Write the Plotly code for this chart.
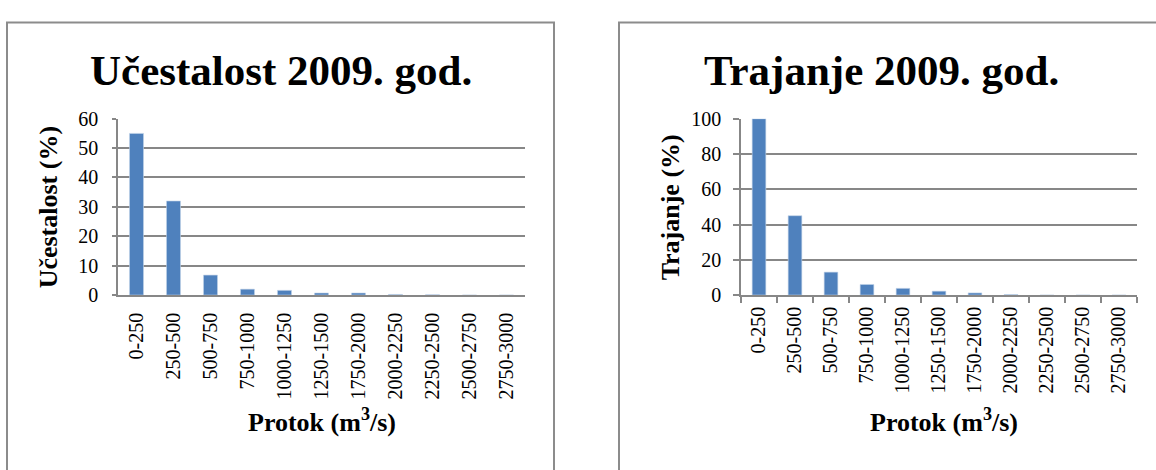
import plotly.graph_objects as go

categories = ["0-250", "250-500", "500-750", "750-1000", "1000-1250", "1250-1500",
              "1750-2000", "2000-2250", "2250-2500", "2500-2750", "2750-3000"]
ucestalost = [55, 32, 6.8, 2.0, 1.6, 0.7, 0.7, 0.2, 0.1, 0.0, 0.0]
trajanje = [100, 45, 13, 6, 3.8, 2.2, 1.2, 0.3, 0.0, 0.0, 0.0]

W, H = 1156, 470
BLUE = "#4F81BD"
GRID = "#878787"
FONT = "Liberation Serif, Times New Roman, serif"

def px(x):
    return x / W

def py(y):
    return 1 - y / H

fig = go.Figure()
fig.add_trace(go.Bar(x=categories, y=ucestalost, marker=dict(color=BLUE, line=dict(color="#c5d5ea", width=0.6)),
                     xaxis="x", yaxis="y", showlegend=False))
fig.add_trace(go.Bar(x=categories, y=trajanje, marker=dict(color=BLUE, line=dict(color="#c5d5ea", width=0.6)),
                     xaxis="x2", yaxis="y2", showlegend=False))

ydom = [py(298), py(113)]
tickfont = dict(family=FONT, size=20, color="black")

fig.update_layout(
    width=W, height=H, margin=dict(l=0, r=0, t=0, b=0),
    paper_bgcolor="white", plot_bgcolor="white",
    bargap=0.62,
    font=dict(family=FONT, color="black"),
    xaxis=dict(domain=[px(118), px(525)], anchor="y", type="category",
               tickangle=-90, tickfont=tickfont, showgrid=False,
               showline=True, linecolor=GRID, linewidth=1.5, ticks="",
               ticklabelstandoff=8),
    yaxis=dict(domain=ydom, anchor="x", range=[0, 60], dtick=10, tickfont=tickfont,
               showgrid=True, gridcolor=GRID, gridwidth=1.5, zeroline=False,
               showline=True, linecolor=GRID, linewidth=1.5,
               ticks="outside", ticklen=4, tickcolor=GRID, tickwidth=1.5,
               ticklabelstandoff=10),
    xaxis2=dict(domain=[px(741), px(1137)], anchor="y2", type="category",
                tickangle=-90, tickfont=tickfont, showgrid=False,
                showline=True, linecolor=GRID, linewidth=1.5,
                ticks="outside", ticklen=6, tickcolor=GRID, tickwidth=1.5,
                tickson="boundaries", ticklabelstandoff=2),
    yaxis2=dict(domain=ydom, anchor="x2", range=[0, 100], dtick=20, tickfont=tickfont,
                showgrid=True, gridcolor=GRID, gridwidth=1.5, zeroline=False,
                showline=True, linecolor=GRID, linewidth=1.5,
                ticks="outside", ticklen=6, tickcolor=GRID, tickwidth=1.5,
                ticklabelstandoff=8),
)

ann = [
    dict(text="<b>Učestalost 2009. god.</b>", x=px(281), y=py(62), font=dict(size=43)),
    dict(text="<b>Trajanje 2009. god.</b>", x=px(881), y=py(62), font=dict(size=43)),
    dict(text="<b>Učestalost (%)</b>", x=px(48), y=py(206), textangle=-90, font=dict(size=26)),
    dict(text="<b>Trajanje (%)</b>", x=px(670), y=py(206), textangle=-90, font=dict(size=26)),
    dict(text="<b>Protok (m<sup>3</sup>/s)</b>", x=px(322), y=py(430), font=dict(size=26)),
    dict(text="<b>Protok (m<sup>3</sup>/s)</b>", x=px(944), y=py(430), font=dict(size=26)),
]
for a in ann:
    a.update(xref="paper", yref="paper", showarrow=False, xanchor="center", yanchor="middle")
    a["font"].update(family=FONT, color="black")
fig.update_layout(annotations=ann)

fig.update_layout(shapes=[
    dict(type="rect", xref="paper", yref="paper", x0=px(7), x1=px(554), y0=-0.1, y1=py(12),
         line=dict(color="#8c8c8c", width=2), layer="below"),
    dict(type="rect", xref="paper", yref="paper", x0=px(619), x1=1.1, y0=-0.1, y1=py(12),
         line=dict(color="#8c8c8c", width=2), layer="below"),
])

fig.write_html("out.html", config={"displayModeBar": False},
               post_script="document.body.style.margin='0';document.body.style.overflow='hidden';")
